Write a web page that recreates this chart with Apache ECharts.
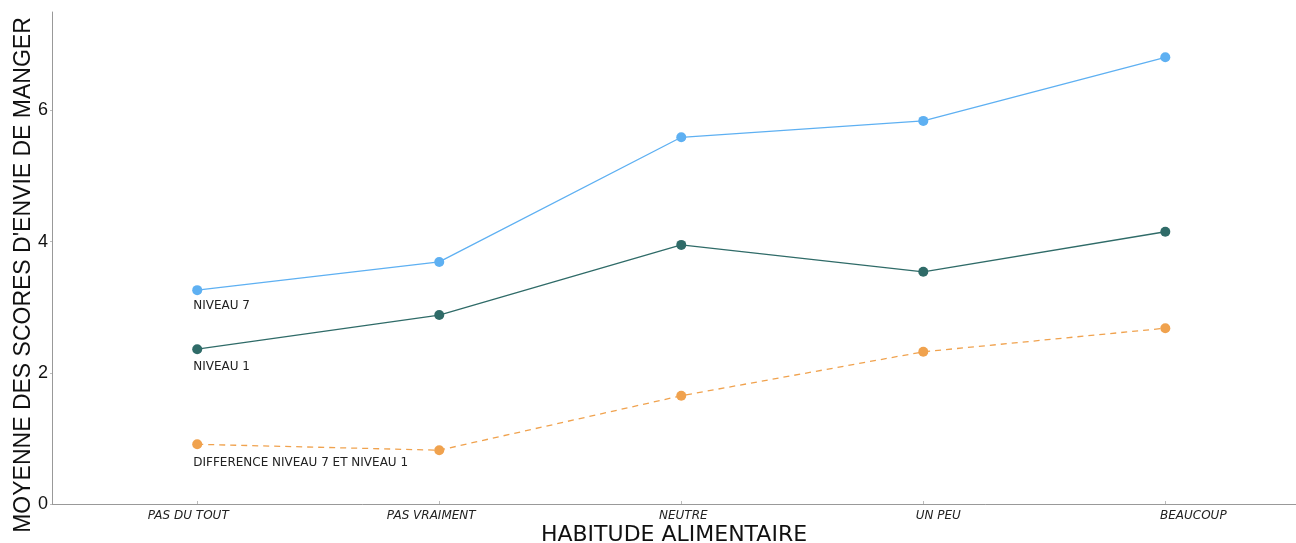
<!DOCTYPE html>
<html><head><meta charset="utf-8">
<script src="https://cdn.jsdelivr.net/npm/echarts@6/dist/echarts.min.js"></script>
<style>html,body{margin:0;padding:0;background:#fff}#c{width:1296px;height:543px}</style>
</head><body><div id="c"></div>
<script>
const categories = ['PAS DU TOUT', 'PAS VRAIMENT', 'NEUTRE', 'UN PEU', 'BEAUCOUP'];
const niveau7 = [3.26, 3.69, 5.59, 5.84, 6.81];
const niveau1 = [2.36, 2.88, 3.95, 3.54, 4.15];
const difference = [0.91, 0.82, 1.65, 2.32, 2.68];
const yTicks = [0, 2, 4, 6];
const seriesNames = ['NIVEAU 7', 'NIVEAU 1', 'DIFFERENCE NIVEAU 7 ET NIVEAU 1'];

const labelShift = [-9, -8, 2, 15, 28];
const rich = {};
labelShift.forEach((s, i) => {
  rich['l' + i] = {
    fontFamily: 'DejaVu Sans', fontSize: 12, fontStyle: 'italic', color: '#222',
    padding: s >= 0 ? [0, 0, 0, 2 * s] : [0, -2 * s, 0, 0]
  };
});

function mk(vals, name, color, dashed, labOff) {
  return {
    type: 'line', name: name,
    data: vals.map((v, i) => i === 0 ? {
      value: [i, v],
      label: { show: true, formatter: name, position: 'bottom', align: 'left',
        offset: [-4, labOff], fontFamily: 'DejaVu Sans', fontSize: 12, color: '#222' }
    } : [i, v]),
    symbol: 'circle', symbolSize: 10,
    itemStyle: { color: color },
    lineStyle: { color: color, width: 1.3, type: dashed ? [6, 5] : 'solid' },
    animation: false
  };
}

const chart = echarts.init(document.getElementById('c'));
chart.setOption({
  animation: false,
  grid: { left: 52, right: 0, top: 12, bottom: 39, containLabel: false, outerBoundsMode: 'none' },
  xAxis: {
    type: 'value', min: -0.6, max: 4.54,
    name: 'HABITUDE ALIMENTAIRE', nameLocation: 'middle', nameGap: 20, nameMoveOverlap: false,
    nameTextStyle: { fontFamily: 'DejaVu Sans', fontSize: 22, color: '#111', lineHeight: 22, verticalAlign: 'top' },
    axisLine: { show: true, onZero: false, lineStyle: { color: '#999' } },
    axisTick: { show: true, customValues: [0, 1, 2, 3, 4], length: 3, inside: true, lineStyle: { color: '#bbb' } },
    axisLabel: { customValues: [0, 1, 2, 3, 4], margin: 6,
      formatter: v => '{l' + v + '|' + categories[v] + '}', rich: rich },
    splitLine: { show: false }
  },
  yAxis: {
    type: 'value', min: 0, max: 7.5,
    name: "MOYENNE DES SCORES D'ENVIE DE MANGER", nameLocation: 'middle', nameGap: 17, nameMoveOverlap: false,
    nameTextStyle: { fontFamily: 'Liberation Sans', fontSize: 23, color: '#111', padding: [0, 34, 0, 0] },
    axisLine: { show: true, onZero: false, lineStyle: { color: '#999' } },
    axisTick: { show: true, customValues: yTicks, length: 2, lineStyle: { color: '#bbb' } },
    axisLabel: { customValues: yTicks, margin: 4, fontFamily: 'Liberation Sans', fontSize: 18, color: '#111' },
    splitLine: { show: false }
  },
  series: [
    mk(niveau7, seriesNames[0], '#5eb0f2', false, 0),
    mk(niveau1, seriesNames[1], '#2f6b68', false, 2),
    mk(difference, seriesNames[2], '#f0a24e', true, 3)
  ]
});
</script></body></html>
